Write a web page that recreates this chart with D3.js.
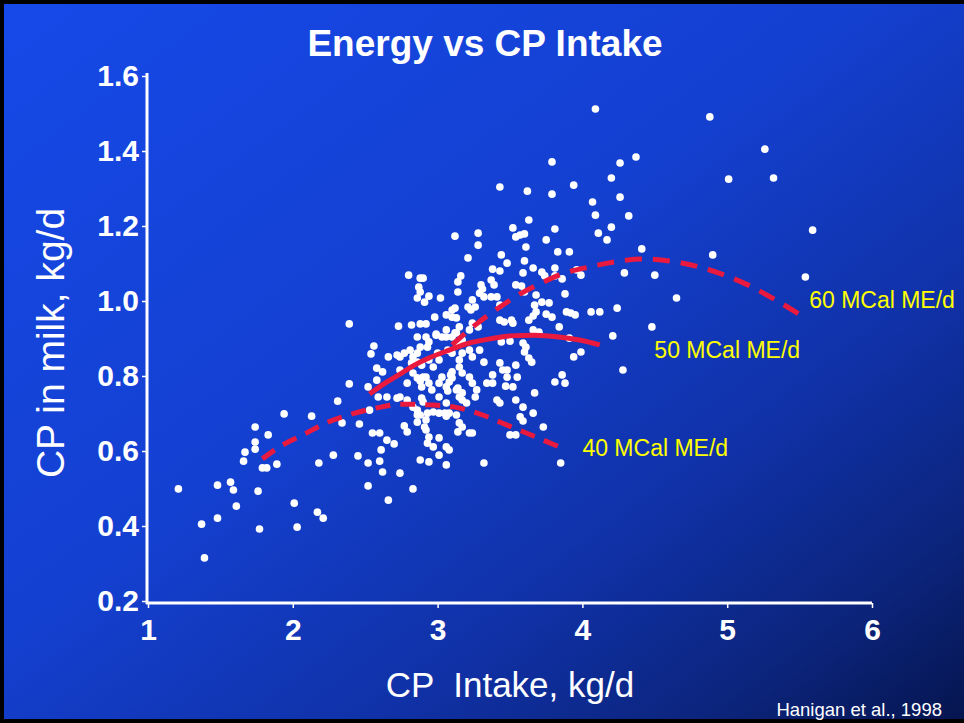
<!DOCTYPE html>
<html>
<head>
<meta charset="utf-8">
<script src="https://cdn.jsdelivr.net/npm/d3@7"></script>
<style>
  html, body { margin: 0; padding: 0; background: #000; }
  svg { display: block; }
  text { font-family: "Liberation Sans", Arial, Helvetica, sans-serif; }
</style>
</head>
<body>
<svg id="chart" width="964" height="723"></svg>
<script>
// ---- data -------------------------------------------------------------
// Observed CP intake (kg/d) and CP in milk (kg/d)
const cpIntake = [
  1.21,1.39,1.37,1.48,1.48,1.57,1.59,1.61,1.76,1.77,2.01,2.03,2.17,2.21,1.66,1.67,1.74,1.74,1.74,1.83,
  1.94,2.13,1.79,1.82,1.89,2.18,2.28,2.31,2.39,2.39,2.34,2.46,2.45,2.52,2.52,2.55,2.60,2.65,2.70,2.61,
  2.60,2.62,2.74,2.66,2.83,2.77,2.72,2.74,2.86,2.52,2.56,2.54,2.53,2.59,2.58,2.62,2.66,2.72,2.77,2.73,
  2.82,2.88,2.92,2.80,2.88,2.90,2.87,2.88,2.86,2.91,2.94,3.02,3.06,2.98,3.10,3.10,3.12,3.13,3.16,3.14,
  3.14,3.21,3.21,3.12,3.28,3.28,3.43,3.62,3.79,3.94,3.52,3.54,3.57,3.60,3.63,3.81,3.75,3.61,3.83,3.91,
  3.44,3.48,3.60,3.66,3.38,3.43,3.59,3.72,3.74,3.81,3.81,3.86,3.96,3.99,3.30,3.31,3.29,3.37,3.39,3.54,
  3.58,3.32,3.37,3.41,3.43,3.60,3.68,3.72,3.77,3.67,3.88,3.89,3.92,3.95,4.06,4.12,3.75,3.79,3.66,3.63,
  3.51,3.52,3.43,3.46,3.84,3.26,3.23,3.24,3.68,3.24,3.28,3.22,3.15,3.13,3.06,3.06,2.99,2.92,2.94,2.86,
  2.88,2.81,2.83,2.74,2.86,2.89,2.90,2.88,2.89,2.94,2.96,3.00,3.01,3.07,3.10,3.15,3.09,3.10,3.08,3.06,
  3.07,3.15,3.17,3.22,3.24,3.29,3.22,3.24,3.27,3.13,3.15,3.26,3.34,3.38,3.43,3.45,3.38,3.54,3.55,3.48,
  3.52,3.41,3.43,3.54,3.59,3.67,3.66,3.57,3.59,3.50,3.54,3.22,3.24,3.15,3.17,3.01,3.05,2.97,2.92,2.91,
  2.88,2.86,2.65,2.83,2.86,2.93,2.97,3.01,3.06,3.08,3.14,2.79,2.88,2.94,3.01,3.06,3.32,2.92,2.94,2.93,
  3.06,3.08,3.13,2.79,2.58,2.74,2.82,2.86,2.93,2.99,3.03,2.83,2.86,2.92,2.79,3.03,3.01,3.10,3.14,3.17,
  3.17,3.14,3.17,3.10,3.12,2.94,2.97,2.89,2.90,3.01,3.17,3.20,3.06,4.09,4.88,5.26,5.32,5.01,4.26,4.37,
  4.20,4.07,4.26,3.79,4.09,4.32,4.11,4.20,4.17,4.41,4.90,5.59,5.54,4.29,4.50,4.65,4.48,4.21,4.28,3.94,
  3.99,3.81,3.88,3.86,3.73,3.85,4.24,3.61,3.60,3.63,3.65,3.66,3.70,3.91,3.47,3.48,3.32,3.59,3.50,3.44
];
const cpMilk = [
  0.499,0.315,0.405,0.421,0.509,0.517,0.496,0.453,0.493,0.392,0.461,0.397,0.437,0.421,0.573,0.597,0.664,0.624,0.605,0.643,
  0.699,0.693,0.555,0.555,0.565,0.568,0.589,0.733,0.779,0.939,0.675,0.672,0.587,0.568,0.507,0.648,0.648,0.629,0.619,0.603,
  0.573,0.544,0.541,0.469,0.499,0.667,0.741,0.744,0.696,0.771,0.880,0.859,0.709,0.744,0.821,0.811,0.851,0.856,0.861,0.933,
  0.936,0.939,0.939,1.069,1.061,1.061,1.037,1.024,1.008,0.997,1.013,1.008,0.963,0.957,0.976,0.957,0.981,0.955,1.067,1.051,
  1.024,1.115,0.984,1.173,1.181,1.149,1.304,1.293,1.285,1.309,1.195,1.171,1.176,1.179,1.216,1.192,1.163,1.144,1.131,1.131,
  1.123,1.101,1.107,1.088,1.085,1.080,1.075,1.077,1.067,1.088,1.067,1.059,1.083,1.069,1.043,1.032,1.021,1.056,1.043,1.043,
  1.040,1.011,1.011,1.011,0.989,1.024,1.016,0.997,0.995,0.989,1.019,0.971,0.968,0.963,0.971,0.971,0.965,0.957,0.960,0.949,
  0.949,0.941,0.949,0.944,0.931,0.984,0.976,1.003,0.971,0.941,0.931,0.923,0.931,0.915,0.923,0.904,0.909,0.904,0.891,0.904,
  0.877,0.869,0.851,0.851,0.837,0.829,0.797,0.787,0.771,0.781,0.763,0.861,0.843,0.869,0.861,0.843,0.803,0.795,0.784,0.771,
  0.760,0.824,0.808,0.869,0.851,0.869,0.797,0.781,0.763,0.763,0.744,0.744,0.781,0.781,0.835,0.816,0.803,0.829,0.797,0.797,
  0.771,0.736,0.728,0.736,0.717,0.755,0.701,0.691,0.680,0.643,0.643,0.648,0.648,0.675,0.664,0.701,0.701,0.704,0.683,0.664,
  0.696,0.677,0.744,0.717,0.709,0.621,0.611,0.635,0.611,0.603,0.651,0.651,0.576,0.571,0.589,0.563,0.568,0.656,0.637,0.701,
  0.693,0.701,0.696,0.736,0.789,0.816,0.835,0.861,0.877,0.912,0.904,0.808,0.795,0.797,0.781,0.797,0.781,0.811,0.768,0.755,
  0.861,0.888,0.896,0.904,0.915,0.843,0.824,0.741,0.731,0.744,0.736,0.728,0.728,1.512,1.491,1.405,1.328,1.325,1.368,1.384,
  1.328,1.264,1.277,1.371,1.229,1.227,1.181,1.197,1.163,1.139,1.123,1.189,1.064,1.075,1.069,1.008,0.931,0.907,0.816,0.851,
  0.864,0.784,0.781,0.803,0.664,0.568,0.981,0.877,0.864,0.848,0.837,0.923,0.917,0.901,0.773,0.816,0.837,0.888,0.893,0.891
];

// Predicted response at three energy intakes
const curveLabels = ["40 MCal ME/d", "50 MCal ME/d", "60 MCal ME/d"];
const curve40x = [1.79,1.93,2.08,2.23,2.41,2.58,2.76,2.94,3.12,3.31,3.48,3.68,3.86];
const curve40y = [0.579,0.616,0.645,0.675,0.699,0.715,0.725,0.723,0.717,0.696,0.669,0.637,0.608];
const curve50x = [2.53,2.63,2.74,2.84,2.94,3.08,3.22,3.36,3.50,3.67,3.84,3.98,4.12];
const curve50y = [0.752,0.779,0.805,0.829,0.848,0.869,0.888,0.899,0.907,0.909,0.904,0.896,0.883];
const curve60x = [3.10,3.27,3.43,3.57,3.70,3.86,4.05,4.22,4.41,4.65,4.90,5.13,5.36,5.53];
const curve60y = [0.883,0.939,0.984,1.019,1.045,1.072,1.091,1.104,1.112,1.104,1.080,1.045,0.997,0.957];

const xTicks = [1, 2, 3, 4, 5, 6];
const yTicks = [0.2, 0.4, 0.6, 0.8, 1.0, 1.2, 1.4, 1.6];

const titleText = "Energy vs CP Intake";
const xTitle = "CP  Intake, kg/d";
const yTitle = "CP in milk, kg/d";
const sourceText = "Hanigan et al., 1998";

// ---- layout -----------------------------------------------------------
const W = 964, H = 723;
const plot = { left: 147, right: 872, top: 76, bottom: 601 };
const RED = "#ea1a3e", YELLOW = "#ffff00";

const svg = d3.select("#chart");

// slide background
const defs = svg.append("defs");
const grad = defs.append("linearGradient").attr("id", "bg")
  .attr("x1", "0%").attr("y1", "0%").attr("x2", "100%").attr("y2", "100%");
[["0%", "#1649e8"], ["45%", "#1440d0"], ["70%", "#1031a6"], ["88%", "#0b2378"], ["100%", "#06154f"]]
  .forEach(([o, c]) => grad.append("stop").attr("offset", o).attr("stop-color", c));

svg.append("rect").attr("width", W).attr("height", H).attr("fill", "#000");
svg.append("rect").attr("x", 4).attr("y", 4).attr("width", W - 4).attr("height", H - 8)
  .attr("fill", "url(#bg)");

const x = d3.scaleLinear().domain([1, 6]).range([plot.left + 1, plot.right]);
const y = d3.scaleLinear().domain([0.2, 1.6]).range([plot.bottom, plot.top]);

// axes
const yAxis = d3.axisLeft(y).tickValues(yTicks).tickFormat(d3.format(".1f"))
  .tickSize(5).tickSizeOuter(0).tickPadding(3);
const xAxis = d3.axisBottom(x).tickValues(xTicks).tickFormat(d3.format("d"))
  .tickSize(5).tickSizeOuter(0).tickPadding(11);

const gy = svg.append("g").attr("transform", `translate(${plot.left},0)`).call(yAxis);
const gx = svg.append("g").attr("transform", `translate(0,${plot.bottom + 2})`).call(xAxis);

[gx, gy].forEach(g => {
  g.select(".domain").attr("stroke", "#fff").attr("stroke-width", 3);
  g.selectAll(".tick line").attr("stroke", "#fff").attr("stroke-width", 1.5);
  g.selectAll(".tick text").attr("fill", "#fff")
    .style("font-family", "'Liberation Sans', Arial, sans-serif")
    .style("font-size", "30px")
    .style("font-weight", "bold");
});
// y-axis line reaches down to meet the x-axis
gy.select(".domain").attr("d", `M0,${plot.top - 3}V${plot.bottom + 3}`);
gx.select(".domain").attr("d", `M${plot.left - 1},0H${plot.right}`);

// scatter
const pts = cpIntake.map((v, i) => [v, cpMilk[i]]);
svg.append("g").selectAll("circle").data(pts).join("circle")
  .attr("cx", d => x(d[0])).attr("cy", d => y(d[1]))
  .attr("r", 3.8).attr("fill", "#ffffff");

// response curves
const line = d3.line().x(d => x(d[0])).y(d => y(d[1])).curve(d3.curveMonotoneX);
const curves = [
  { xs: curve40x, ys: curve40y, dash: "15,10" },
  { xs: curve50x, ys: curve50y, dash: null },
  { xs: curve60x, ys: curve60y, dash: "17,11" }
];
curves.forEach(c => {
  svg.append("path")
    .datum(c.xs.map((v, i) => [v, c.ys[i]]))
    .attr("d", line)
    .attr("fill", "none")
    .attr("stroke", RED)
    .attr("stroke-width", 5)
    .attr("stroke-dasharray", c.dash);
});

// curve labels (left/baseline anchor in data units)
const labelAt = [[4.0, 0.587], [4.497, 0.848], [5.566, 0.981]];
svg.append("g").selectAll("text").data(curveLabels).join("text")
  .attr("x", (d, i) => x(labelAt[i][0]))
  .attr("y", (d, i) => y(labelAt[i][1]))
  .attr("fill", YELLOW)
  .style("font-size", "23px")
  .text(d => d);

// titles
svg.append("text").attr("x", 485).attr("y", 56).attr("text-anchor", "middle")
  .attr("fill", "#fff").style("font-size", "37px").style("font-weight", "bold")
  .text(titleText);

svg.append("text").attr("x", 510).attr("y", 697).attr("text-anchor", "middle")
  .attr("fill", "#fff").style("font-size", "35px").style("white-space", "pre")
  .text(xTitle);

svg.append("text").attr("transform", "translate(64,343) rotate(-90)")
  .attr("text-anchor", "middle")
  .attr("fill", "#fff").style("font-size", "39px")
  .text(yTitle);

svg.append("text").attr("x", 942).attr("y", 716).attr("text-anchor", "end")
  .attr("fill", "#fff").style("font-size", "18.5px")
  .text(sourceText);
</script>
</body>
</html>
